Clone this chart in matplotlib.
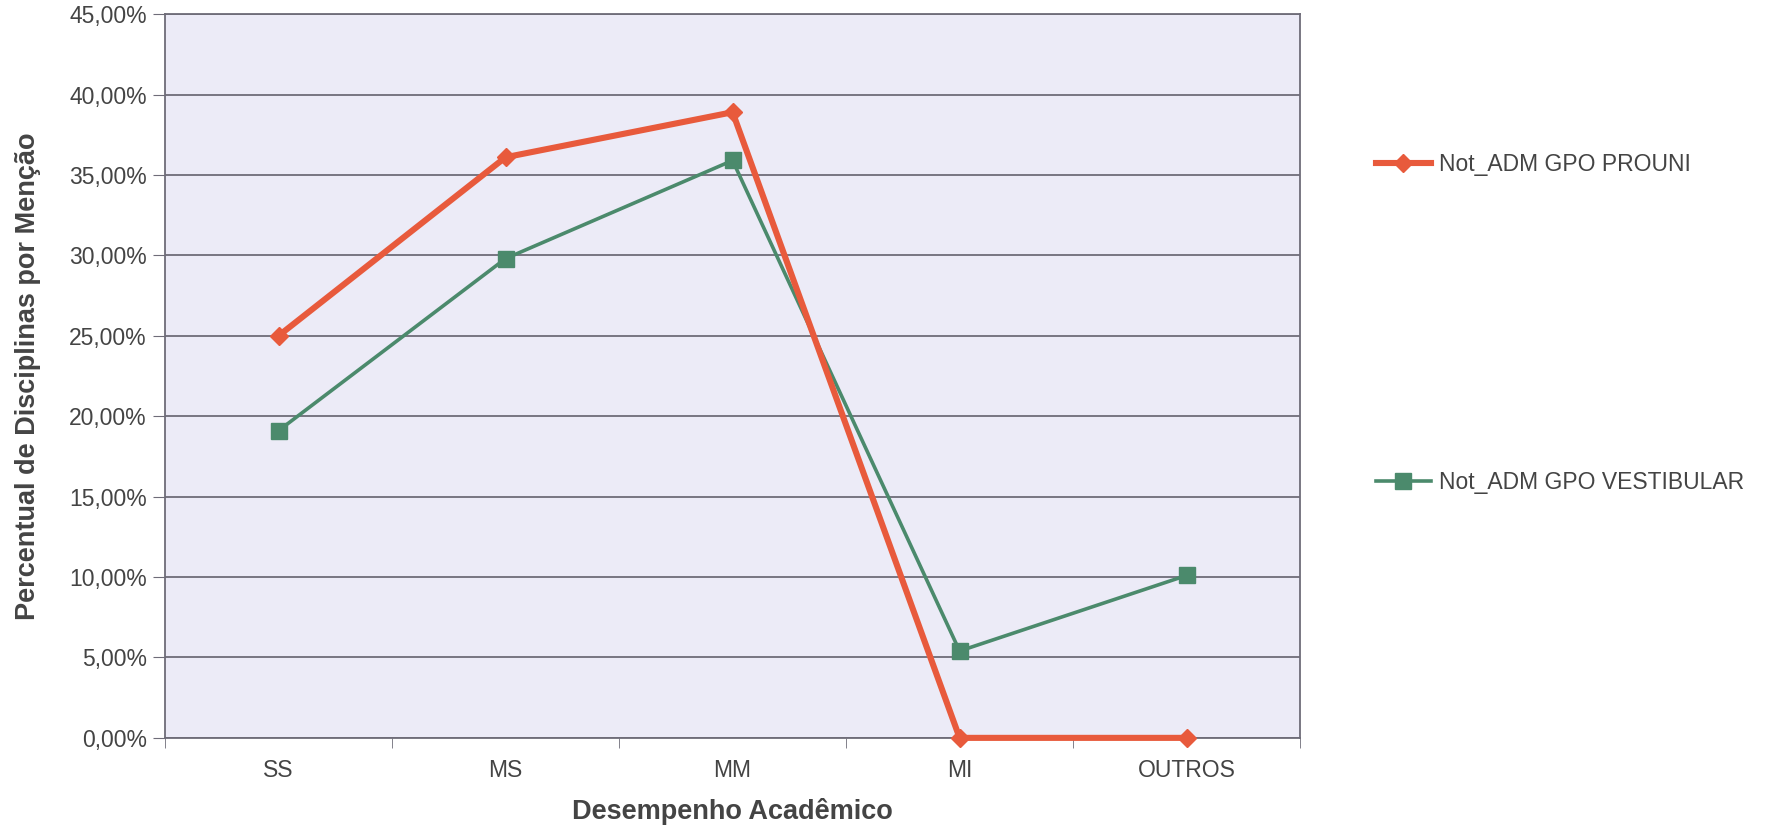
import matplotlib
matplotlib.use('Agg')
import matplotlib.pyplot as plt
from matplotlib.ticker import FuncFormatter, FixedLocator

# --- Data ---
categorias = ["SS", "MS", "MM", "MI", "OUTROS"]
prouni = [25.0, 36.1, 38.9, 0.0, 0.0]
vestibular = [19.1, 29.8, 35.9, 5.4, 10.1]

COR_PROUNI = '#e85a3c'
COR_VEST = '#4b8a6c'

plt.rcParams.update({
    "font.family": ["Liberation Sans", "DejaVu Sans"],
    "font.size": 16,
})

fig = plt.figure(figsize=(17.82, 8.30), dpi=100)
ax = fig.add_axes([0.0926, 0.111, 0.637, 0.872])
ax.set_facecolor('#ecebf7')

x = list(range(len(categorias)))
ax.plot(x, vestibular, color=COR_VEST, linewidth=2.6, marker='s', markersize=12,
        label="Not_ADM GPO VESTIBULAR", zorder=3)
ax.plot(x, prouni, color=COR_PROUNI, linewidth=4.4, marker='D', markersize=9,
        label="Not_ADM GPO PROUNI", zorder=4, clip_on=False)

ax.set_xlim(-0.5, len(categorias) - 0.5)
ax.set_ylim(0, 45)
ax.set_yticks(range(0, 46, 5))
ax.yaxis.set_major_formatter(FuncFormatter(lambda v, p: f"{v:.2f}%".replace('.', ',')))
ax.grid(axis='y', color='#6e6c78', linewidth=1.3)
ax.set_axisbelow(True)

ax.set_xticks(x)
ax.set_xticklabels(categorias)
ax.xaxis.set_minor_locator(FixedLocator([i + 0.5 for i in range(-1, len(categorias))]))
ax.tick_params(axis='x', which='major', length=0, pad=15, colors='#444444', labelsize=16.5)
ax.tick_params(axis='x', which='minor', length=7, color='#6e6c78', direction='out')
ax.tick_params(axis='y', length=9, color='#6e6c78', direction='out', pad=4,
               colors='#444444', labelsize=16.5)
for sp in ax.spines.values():
    sp.set_color('#6e6c78')
    sp.set_linewidth(1.3)

ax.set_xlabel("Desempenho Acadêmico", fontsize=19.5, weight='bold', color='#444444', labelpad=12)
ax.set_ylabel("Percentual de Disciplinas por Menção", fontsize=19.5, weight='bold',
              color='#444444', labelpad=20)

h, l = ax.get_legend_handles_labels()
fig.legend(h[::-1], l[::-1], loc='upper left', bbox_to_anchor=(0.772, 0.816),
           frameon=False, fontsize=16.5, labelspacing=12.9, handlelength=2.4,
           handletextpad=0.35, borderpad=0, borderaxespad=0, labelcolor='#444444')

fig.savefig("out.png", dpi=100, facecolor='white')
